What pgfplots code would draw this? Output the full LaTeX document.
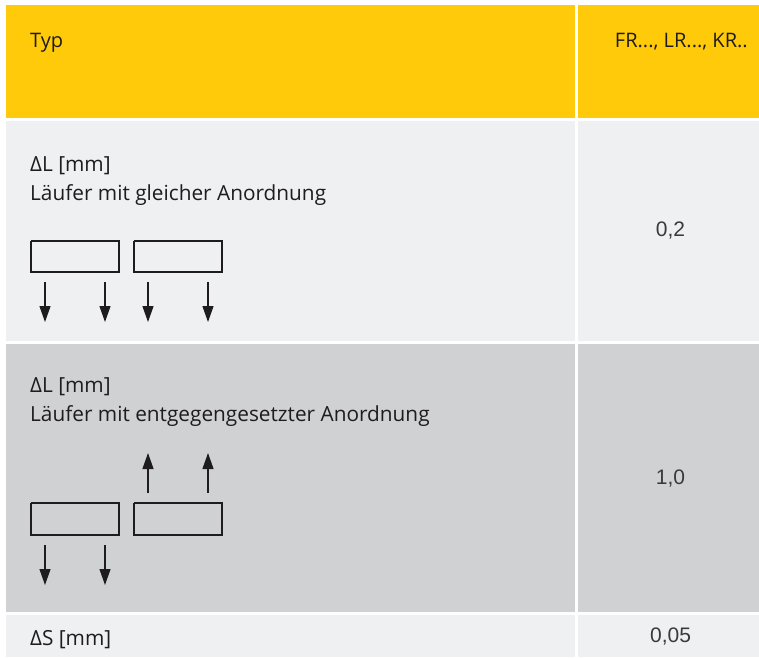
\documentclass[border=0pt]{standalone}
\usepackage{pgfplots}
\pgfplotsset{compat=1.18}
\usetikzlibrary{arrows.meta}
\usepackage{fontspec}
\setmainfont{Open Sans}
\newfontfamily\numfont{Liberation Sans}
\definecolor{hdr}{HTML}{FFCA0A}
\definecolor{lg}{HTML}{EFF0F2}
\definecolor{dg}{HTML}{D0D1D3}
\definecolor{txt}{HTML}{1E1C1D}
\definecolor{numc}{HTML}{3A3A3A}
\tikzset{arr/.style={draw=txt, line width=1.2pt, -{Triangle[length=16pt,width=11pt]}},
  box/.style={draw=txt, line width=1.6pt},
  bodytext/.style={anchor=base west, text=txt, inner sep=0pt, font=\fontsize{20.8}{24}\selectfont},
  numtext/.style={text=numc, inner sep=0pt, font=\numfont\fontsize{21}{24}\selectfont}}
\begin{document}
\begin{tikzpicture}
\begin{axis}[
  scale only axis, width=759pt, height=657pt,
  xmin=0, xmax=759, ymin=0, ymax=657, y dir=reverse,
  hide axis, clip=false,
]
% frame (invisible, fixes bounding box)
\addplot[draw=none] coordinates {(0,0) (759,657)};
% cell backgrounds
\addplot[fill=hdr, draw=none] coordinates {(6,5) (575,5) (575,118) (6,118)};
\addplot[fill=hdr, draw=none] coordinates {(578,5) (759,5) (759,118) (578,118)};
\addplot[fill=lg, draw=none] coordinates {(6,121) (575,121) (575,341) (6,341)};
\addplot[fill=lg, draw=none] coordinates {(578,121) (759,121) (759,341) (578,341)};
\addplot[fill=dg, draw=none] coordinates {(6,344) (575,344) (575,612) (6,612)};
\addplot[fill=dg, draw=none] coordinates {(578,344) (759,344) (759,612) (578,612)};
\addplot[fill=lg, draw=none] coordinates {(6,615) (575,615) (575,657) (6,657)};
\addplot[fill=lg, draw=none] coordinates {(578,615) (759,615) (759,657) (578,657)};
% row 2 sketch: boxes
\addplot[box] coordinates {(31,241) (119,241) (119,272) (31,272) (31,241)};
\addplot[box] coordinates {(134,241) (222,241) (222,272) (134,272) (134,241)};
% row 2 arrows (down)
\addplot[arr] coordinates {(45,282) (45,322)};
\addplot[arr] coordinates {(105,282) (105,322)};
\addplot[arr] coordinates {(148,282) (148,322)};
\addplot[arr] coordinates {(208,282) (208,322)};
% row 3 boxes
\addplot[box] coordinates {(31,503) (119,503) (119,535) (31,535) (31,503)};
\addplot[box] coordinates {(134,503) (222,503) (222,535) (134,535) (134,503)};
% row 3 arrows
\addplot[arr] coordinates {(148,493) (148,453)};
\addplot[arr] coordinates {(208,493) (208,453)};
\addplot[arr] coordinates {(45,545) (45,585)};
\addplot[arr] coordinates {(105,545) (105,585)};
% texts
\node[anchor=base west, text=txt, inner sep=0pt, font=\fontsize{20}{24}\selectfont] at (axis cs:30,47) {Typ};
\node[anchor=base east, text=txt, inner sep=0pt, font=\fontsize{20}{24}\selectfont] at (axis cs:748,47) {FR..., LR..., KR..};
\node[bodytext] at (axis cs:30,171) {ΔL [mm]};
\node[bodytext] at (axis cs:30,200) {Läufer mit gleicher Anordnung};
\node[bodytext] at (axis cs:30,392) {ΔL [mm]};
\node[bodytext] at (axis cs:30,421) {Läufer mit entgegengesetzter Anordnung};
\node[bodytext] at (axis cs:30,645) {ΔS [mm]};
\node[numtext] at (axis cs:670.5,231) {0,2};
\node[numtext] at (axis cs:670.5,478) {1,0};
\node[numtext] at (axis cs:670.5,636) {0,05};
\end{axis}
\end{tikzpicture}
\end{document}
